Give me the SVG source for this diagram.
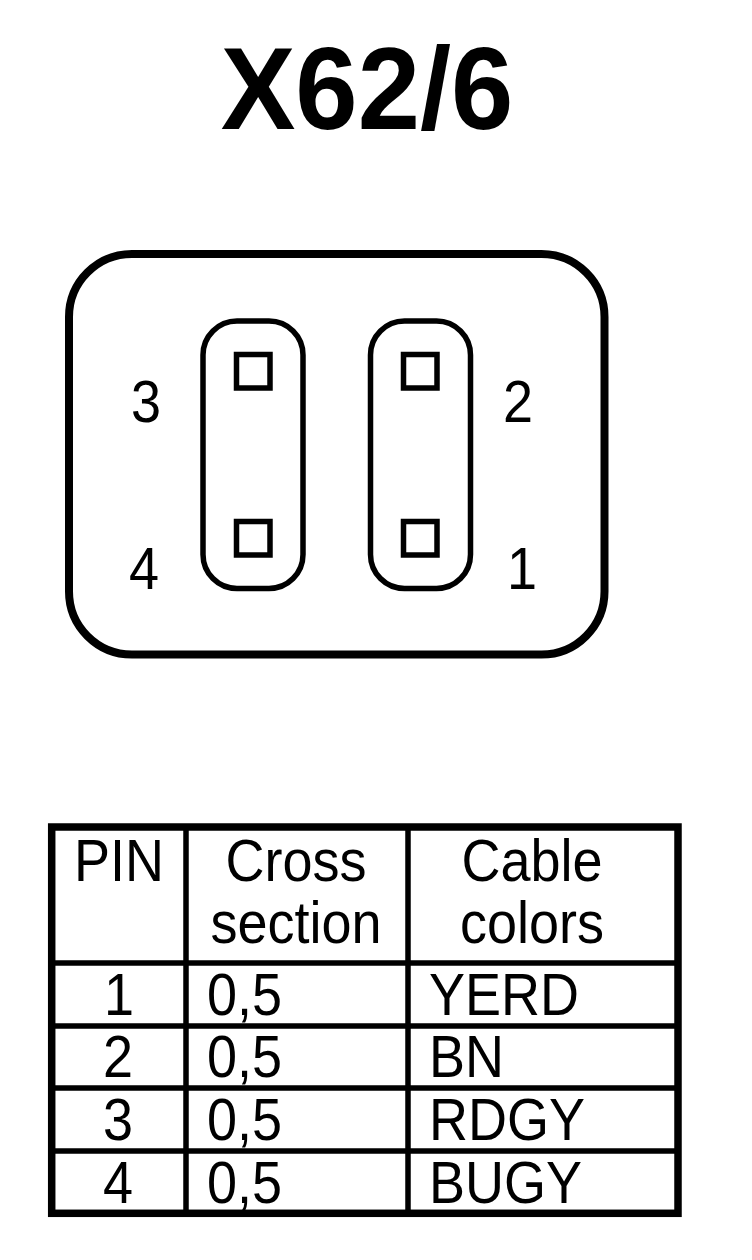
<svg xmlns="http://www.w3.org/2000/svg" width="752" height="1260" viewBox="0 0 752 1260">
<style>
text{font-family:"Liberation Sans",Arial,sans-serif;fill:#000}
.s{fill:none;stroke:#000;stroke-width:5.500}
.h{fill:none;stroke:#000;stroke-width:8}
.l{font-size:54px;text-anchor:middle}
.t{font-size:54px}
.c{stroke:#000;stroke-width:5.500;fill:none}
.o{stroke:#000;stroke-width:7.500;fill:none}
</style>
<rect width="752" height="1260" fill="#fff"/>
<text transform="matrix(1 0 0 1.05 367 128.500)" font-weight="bold" text-anchor="middle" style="font-size:112px">X62/6</text>
<g id="housing"><rect class="h" x="69" y="254" width="535.500" height="400.500" rx="63" ry="63"/></g>
<g id="contact-left"><rect class="s" x="203" y="321" width="100" height="267.500" rx="34"/><rect class="s" x="236.500" y="354.500" width="33.500" height="33.500"/><rect class="s" x="236.500" y="521.500" width="33.500" height="33.500"/></g>
<g id="contact-right"><rect class="s" x="370.500" y="321" width="100" height="267.500" rx="34"/><rect class="s" x="403.500" y="354.500" width="33.500" height="33.500"/><rect class="s" x="403.500" y="521.500" width="33.500" height="33.500"/></g>
<g id="pin-labels">
<text class="l" transform="matrix(1 0 0 1.08 146 422)">3</text><text class="l" transform="matrix(1 0 0 1.08 144 589)">4</text>
<text class="l" transform="matrix(1 0 0 1.08 518 422)">2</text><text class="l" transform="matrix(1 0 0 1.08 522 589)">1</text></g>
<g id="table">
<path class="c" d="M50 963H679M50 1026H679M50 1088H679M50 1151H679M186 826V1214M408 826V1214"/>
<rect class="o" x="51.700" y="827" width="626.300" height="386.300"/>
<text class="l" transform="matrix(1 0 0 1.08 119 880.500)">PIN</text>
<text class="l" transform="matrix(1 0 0 1.08 296 880.500)">Cross</text><text class="l" transform="matrix(1 0 0 1.08 296 942.500)">section</text>
<text class="l" transform="matrix(1 0 0 1.08 532 880.500)">Cable</text><text class="l" transform="matrix(1 0 0 1.08 532 942.500)">colors</text>
<text class="l" transform="matrix(1 0 0 1.08 119 1014.500)">1</text><text class="l" transform="matrix(1 0 0 1.08 118 1077)">2</text><text class="l" transform="matrix(1 0 0 1.08 118 1139.500)">3</text><text class="l" transform="matrix(1 0 0 1.08 118 1202.500)">4</text>
<text class="t" transform="matrix(1 0 0 1.08 207 1014.500)">0,5</text><text class="t" transform="matrix(1 0 0 1.08 207 1077)">0,5</text><text class="t" transform="matrix(1 0 0 1.08 207 1139.500)">0,5</text><text class="t" transform="matrix(1 0 0 1.08 207 1202.500)">0,5</text>
<text class="t" transform="matrix(1 0 0 1.08 429 1014.500)">YERD</text><text class="t" transform="matrix(1 0 0 1.08 429 1077)">BN</text><text class="t" transform="matrix(1 0 0 1.08 429 1139.500)">RDGY</text><text class="t" transform="matrix(1 0 0 1.08 429 1202.500)">BUGY</text>
</g>
</svg>
